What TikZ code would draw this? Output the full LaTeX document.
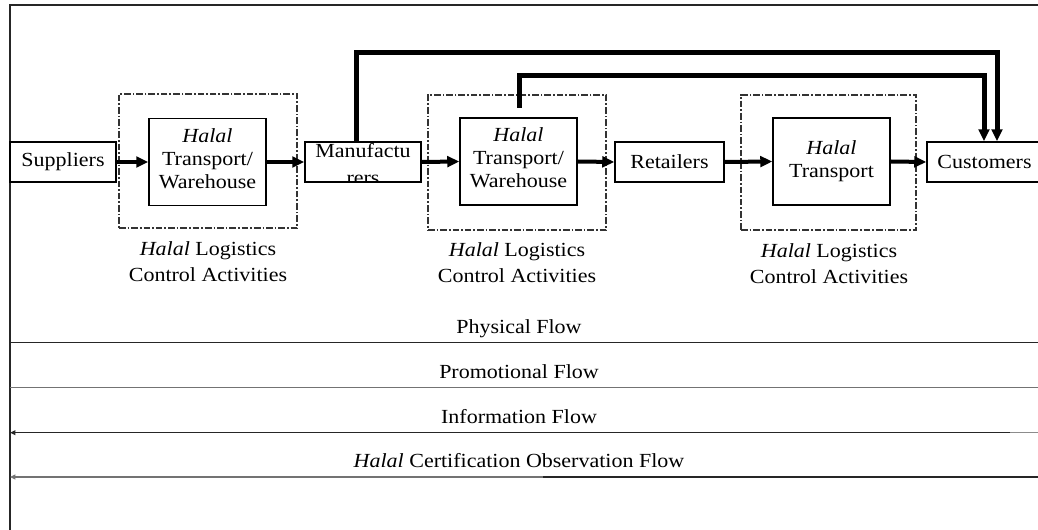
\documentclass[tikz,border=0pt]{standalone}
\usepackage{fontspec}
\setmainfont[FakeStretch=1.1]{Liberation Serif}
\usetikzlibrary{arrows.meta,fit}

\begin{document}
\begin{tikzpicture}[x=0.75pt,y=-0.75pt,
  font=\fontsize{15pt}{17.25pt}\selectfont,
  box/.style={draw, line width=1.1pt, inner sep=0pt, align=center},
  smallbox/.style={box, minimum height=30pt},
  tallbox/.style={box, minimum width=87.75pt, minimum height=65.5pt},
  ctrl/.style={draw=black!80, line width=0.8pt, inner sep=0pt,
    dash pattern=on 5pt off 1.5pt on 1.2pt off 1.5pt},
  lbl/.style={inner sep=0pt, align=center, font=\fontsize{15pt}{19.5pt}\selectfont},
  flowtxt/.style={inner sep=0pt, anchor=base},
  thinflow/.style={line width=2.3pt, -{Triangle[length=9pt,width=8pt]}},
  flow/.style={line width=3pt, -{Triangle[length=9pt,width=8pt]}},
  conn/.style={line width=3.75pt, -{Triangle[length=9pt,width=8pt]}},
  band/.style={line width=1.1pt, draw=black!85},
  bandarrow/.style={band, -{Triangle[length=4pt,width=3.5pt]}},
]
\clip (0,0) rectangle (1038,530);
\fill[white] (0,0) rectangle (1038,530);

% outer frame
\coordinate (ftl) at (10,5);
\coordinate (ftr) at (1038,5);
\coordinate (fbl) at (10,530);
\draw[line width=1.2pt, black!85] (ftr) -- (ftl) -- (fbl);

% control activity regions
\node[ctrl, fit={(119,94) (297,228)}] (ctrlA) {};
\node[ctrl, fit={(428,95) (606,230)}] (ctrlB) {};
\node[ctrl, fit={(741,95) (916,230)}] (ctrlC) {};

\node[lbl] (lblA) at (208,262) {\textit{Halal} Logistics\\Control Activities};
\node[lbl] (lblB) at (517,263) {\textit{Halal} Logistics\\Control Activities};
\node[lbl] (lblC) at (829,264) {\textit{Halal} Logistics\\Control Activities};

% chain members
\node[smallbox, minimum width=79.5pt] (sup) at (63,162) {Suppliers};
\node[tallbox] (twA) at (207.5,162) {\textit{Halal}\\Transport/\\Warehouse\strut};
\node[smallbox, minimum width=87pt] (manu) at (363,162) {};
\begin{scope}
  \clip (manu.south west) rectangle (manu.north east);
  \node[inner sep=0pt, align=center, font=\fontsize{15pt}{20.25pt}\selectfont]
    (manutext) at (363,163.7) {Manufactu\\rers};
\end{scope}
\node[tallbox] (twB) at (518.5,161.5) {\textit{Halal}\\Transport/\\Warehouse\strut};
\node[smallbox, minimum width=81.75pt] (ret) at (669.5,162) {Retailers};
\node[tallbox] (tC) at (831.5,161.5) {\textit{Halal}\\Transport};
\node[smallbox, minimum width=92.25pt] (cust) at (988.5,162) {};
\node[inner sep=0pt] (custtext) at (984.5,162) {Customers};

% physical chain arrows
\draw[thinflow] (sup.east) -- (twA.west);
\draw[flow] (twA.east) -- (manu.west);
\draw[flow] (manu.east) -- (twB.west);
\draw[flow] (twB.east) -- (ret.west);
\draw[flow] (ret.east) -- (tC.west);
\draw[flow] (tC.east) -- (cust.west);

% direct deliveries to customers
\coordinate (oA) at (356,53);
\coordinate (oB) at (997,53);
\draw[conn] (manu.north -| oA) -- (oA) -- (oB) -- (cust.north -| oB);
\coordinate (iS) at (519,108);
\coordinate (iA) at (519,76);
\coordinate (iB) at (984,76);
\draw[conn] (iS) -- (iA) -- (iB) -- (cust.north -| iB);

% flow bands
\node[flowtxt] (tPhys) at (519,334) {Physical Flow};
\node[flowtxt] (tProm) at (519,379) {Promotional Flow};
\node[flowtxt] (tInfo) at (519,423.5) {Information Flow};
\node[flowtxt] (tCert) at (519,467) {\textit{Halal} Certification Observation Flow};

\coordinate (pL) at (10,342.7);  \coordinate (pR) at (1038,342.7);
\coordinate (mL) at (10,387.7);  \coordinate (mR) at (1038,387.7);
\coordinate (nL) at (10,432.7);  \coordinate (nM) at (1010,432.7); \coordinate (nR) at (1038,432.7);
\coordinate (cL) at (10,477);    \coordinate (cM) at (543,477);   \coordinate (cR) at (1038,477);

\draw[band] (pL) -- (pR);
\draw[band, draw=black!55] (mL) -- (mR);
\draw[band, draw=black!45] (nR) -- (nM);
\draw[bandarrow] (nM) -- (nL);
\draw[band] (cR) -- (cM);
\draw[bandarrow, draw=black!55] (cM) -- (cL);
\end{tikzpicture}
\end{document}
